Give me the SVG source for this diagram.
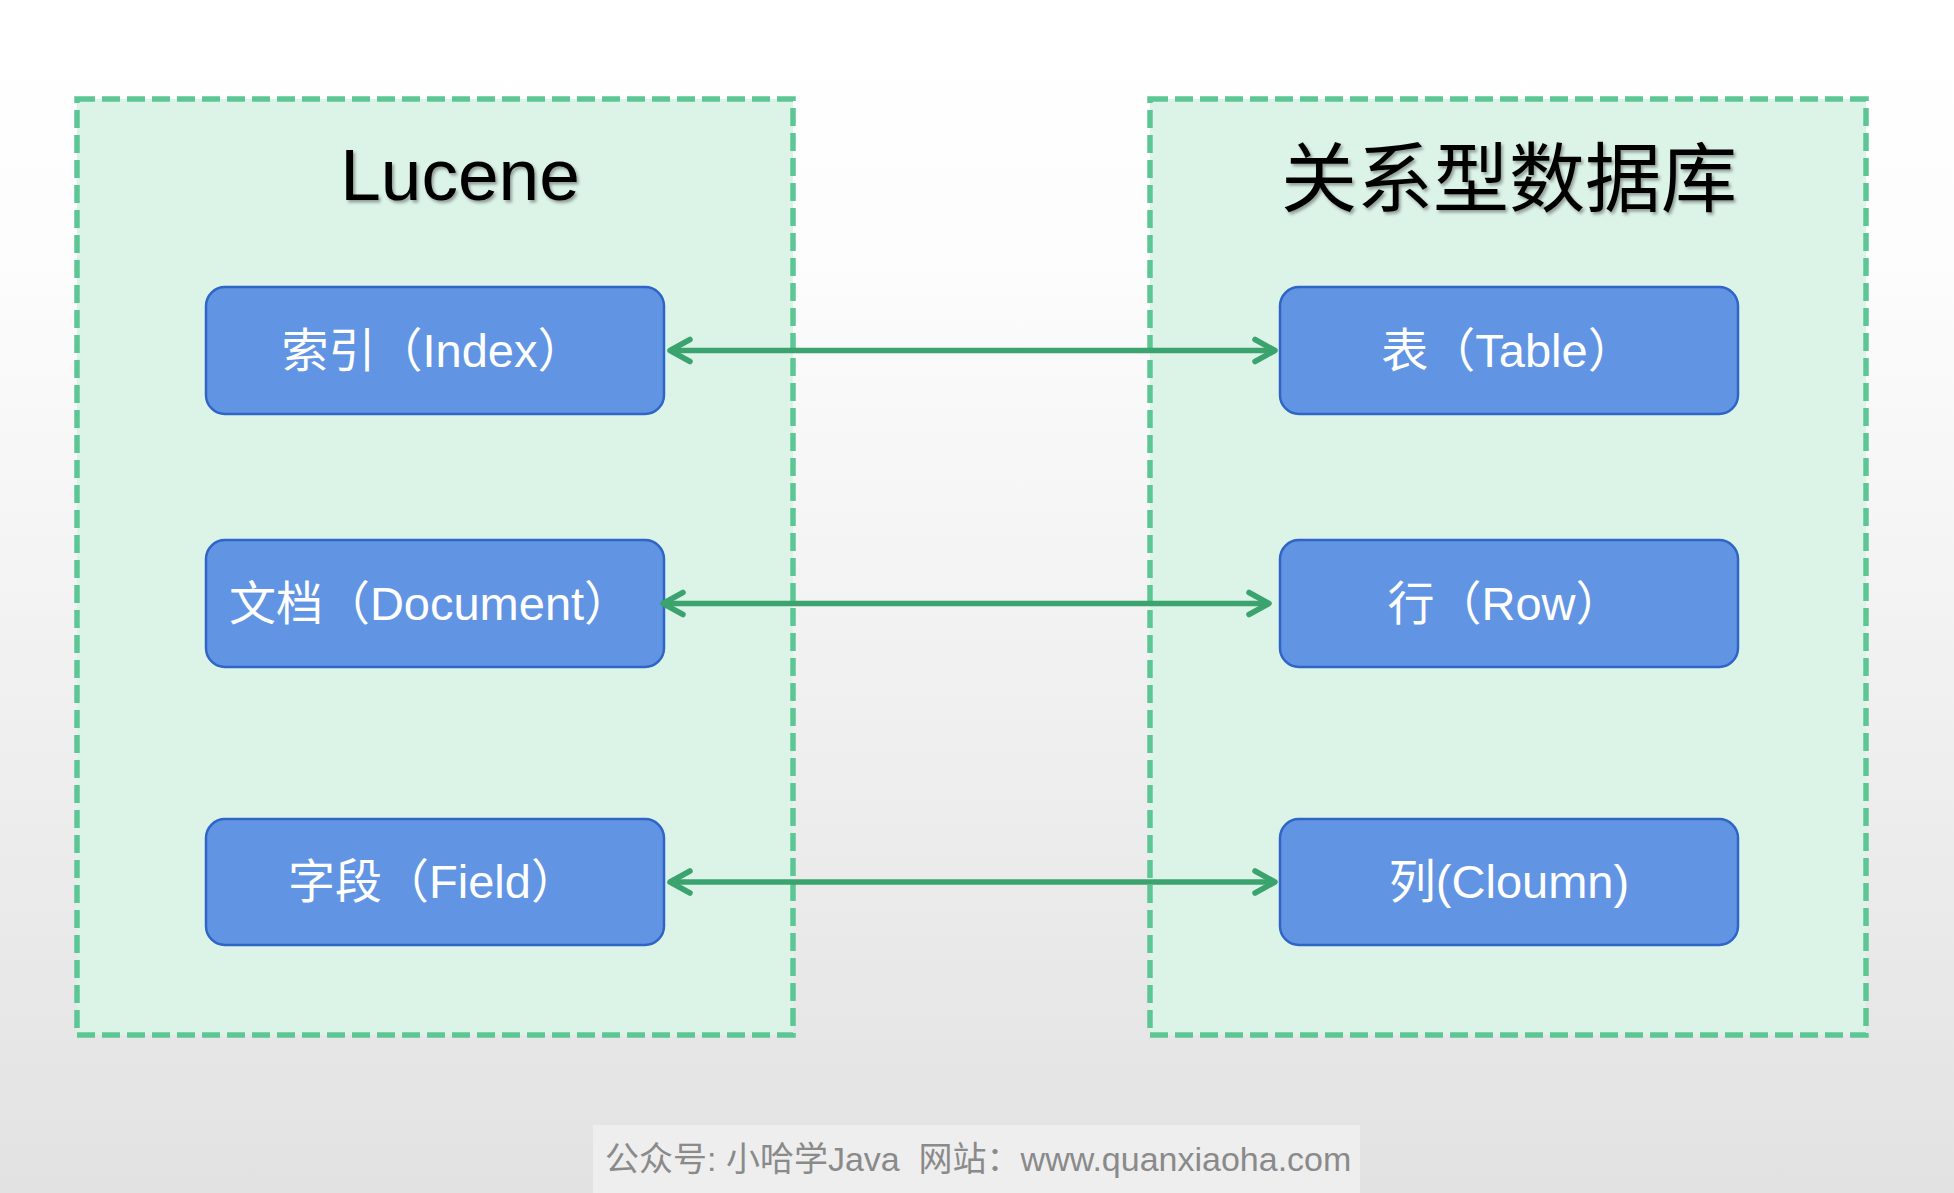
<svg xmlns="http://www.w3.org/2000/svg" width="1954" height="1193" viewBox="0 0 1954 1193">
  <defs>
    <linearGradient id="bg" x1="0" y1="0" x2="0" y2="1">
      <stop offset="0" stop-color="#FFFFFF"/>
      <stop offset="0.2" stop-color="#FDFDFD"/>
      <stop offset="1" stop-color="#E2E2E2"/>
    </linearGradient>
    <filter id="shadow" x="-10%" y="-20%" width="130%" height="150%">
      <feDropShadow dx="2" dy="2.5" stdDeviation="1.5" flood-color="#000000" flood-opacity="0.35"/>
    </filter>
    <marker id="arr" viewBox="-26 -15 30 30" refX="0" refY="0" markerWidth="30" markerHeight="30" markerUnits="userSpaceOnUse" orient="auto-start-reverse">
      <path d="M-20,-11 L0,0 L-20,11" fill="none" stroke="#3BA36E" stroke-width="5.5" stroke-linecap="round" stroke-linejoin="round"/>
    </marker>
    <style>
      .group { fill: #DCF3E8; stroke: #5CC794; stroke-width: 5.5; stroke-dasharray: 18 7; }
      .node rect { fill: #6195E4; stroke: #2F65C6; stroke-width: 2.5; }
      .node text { fill: #FFFFFF; font-family: "Liberation Sans", "Noto Sans CJK SC", sans-serif; font-size: 47px; text-anchor: middle; }
      .title { fill: #000000; font-family: "Liberation Sans", "Noto Sans CJK SC", sans-serif; text-anchor: middle; filter: url(#shadow); }
      .conn { fill: none; stroke: #3BA36E; stroke-width: 5.5; marker-start: url(#arr); marker-end: url(#arr); }
      .wm { fill: #8A8A8A; font-family: "Liberation Sans", "Noto Sans CJK SC", sans-serif; font-size: 34px; white-space: pre; }
    </style>
  </defs>

  <rect x="0" y="0" width="1954" height="1193" fill="url(#bg)"/>

  <g id="lucene-group">
    <rect class="group" x="77" y="99" width="716" height="936"/>
    <text class="title" x="460" y="200" font-size="73">Lucene</text>
  </g>

  <g id="rdb-group">
    <rect class="group" x="1150" y="99" width="716" height="936"/>
    <text class="title" x="1509" y="206" font-size="76">关系型数据库</text>
  </g>

  <g id="node-index" class="node">
    <rect x="206" y="287" width="458" height="127" rx="19" ry="19"/>
    <text x="433" y="367">索引（Index）</text>
  </g>
  <g id="node-document" class="node">
    <rect x="206" y="540" width="458" height="127" rx="19" ry="19"/>
    <text x="430" y="620">文档（Document）</text>
  </g>
  <g id="node-field" class="node">
    <rect x="206" y="819" width="458" height="126" rx="19" ry="19"/>
    <text x="433" y="898">字段（Field）</text>
  </g>

  <g id="node-table" class="node">
    <rect x="1280" y="287" width="458" height="127" rx="19" ry="19"/>
    <text x="1508" y="367">表（Table）</text>
  </g>
  <g id="node-row" class="node">
    <rect x="1280" y="540" width="458" height="127" rx="19" ry="19"/>
    <text x="1505" y="620">行（Row）</text>
  </g>
  <g id="node-column" class="node">
    <rect x="1280" y="819" width="458" height="126" rx="19" ry="19"/>
    <text x="1509" y="898">列(Cloumn)</text>
  </g>

  <g id="connectors">
    <path class="conn" d="M670,350.5 L1275,350.5"/>
    <path class="conn" d="M663,603.5 L1269,603.5"/>
    <path class="conn" d="M670,882 L1275,882"/>
  </g>

  <g id="watermark">
    <rect x="593" y="1125" width="767" height="68" fill="#EEEEEE"/>
    <text class="wm" x="605" y="1171">公众号: 小哈学Java  网站：www.quanxiaoha.com</text>
  </g>
</svg>
